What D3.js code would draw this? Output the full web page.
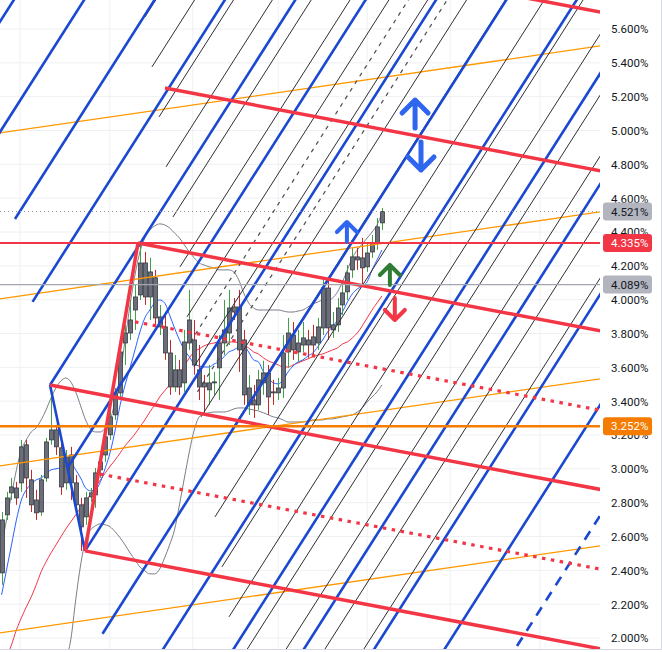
<!DOCTYPE html>
<html><head><meta charset="utf-8">
<script src="https://cdn.jsdelivr.net/npm/d3@7/dist/d3.min.js"></script>
<style>html,body{margin:0;padding:0;background:#fff;overflow:hidden}</style>
</head><body>
<script>
// ---------- candle data (percent yield) ----------
const open  = [2.385,2.728,2.858,2.887,2.917,3.142,2.935,2.816,2.745,2.946,3.171,3.230,3.124,2.917,3.082,2.917,2.787,2.716,2.834,2.846,2.994,3.082,3.201,3.319,3.449,3.744,3.803,3.939,4.028,4.217,4.016,4.129,3.839,3.839,3.685,3.484,3.585,3.508,3.744,3.762,3.585,3.508,3.467,3.508,3.597,3.744,3.803,3.957,3.957,3.762,3.378,3.407,3.378,3.508,3.567,3.455,3.449,3.478,3.691,3.791,3.691,3.732,3.762,3.780,3.744,3.833,4.069,3.821,3.851,3.969,4.046,4.176,4.253,4.247,4.194,4.282,4.335,4.454];
const high  = [2.745,2.864,2.946,2.923,3.171,3.171,2.994,2.876,2.964,3.183,3.496,3.260,3.171,3.112,3.130,2.964,2.828,2.864,2.887,3.005,3.082,3.218,3.348,3.478,3.762,3.851,3.998,4.087,4.335,4.282,4.247,4.176,3.969,3.910,3.762,3.673,3.644,3.821,4.058,3.880,3.732,3.555,3.614,3.573,3.791,3.998,4.058,4.010,4.058,3.821,3.555,3.496,3.585,3.639,3.614,3.526,3.537,3.791,3.892,3.868,3.821,3.868,3.821,3.851,3.892,4.117,4.117,3.927,4.010,4.099,4.205,4.306,4.306,4.365,4.335,4.383,4.483,4.542];
const low   = [2.314,2.698,2.816,2.787,2.864,2.828,2.745,2.698,2.722,2.923,3.142,3.082,2.846,2.876,2.816,2.745,2.515,2.669,2.805,2.769,2.946,3.041,3.171,3.289,3.407,3.614,3.762,3.821,3.998,3.969,3.880,3.851,3.791,3.644,3.437,3.455,3.437,3.455,3.703,3.556,3.407,3.319,3.378,3.437,3.407,3.673,3.732,3.880,3.573,3.378,3.319,3.301,3.348,3.437,3.319,3.378,3.407,3.419,3.597,3.644,3.632,3.691,3.656,3.673,3.703,3.791,3.762,3.774,3.809,3.910,3.998,4.129,4.176,4.087,4.164,4.247,4.294,4.412];
const close = [2.698,2.828,2.893,2.828,3.130,2.946,2.787,2.740,2.935,3.159,3.230,3.130,2.893,3.071,2.917,2.787,2.657,2.828,2.858,2.976,3.041,3.189,3.307,3.449,3.691,3.803,3.880,4.016,4.217,4.016,4.164,3.892,3.898,3.685,3.484,3.585,3.484,3.750,3.880,3.614,3.484,3.484,3.508,3.514,3.744,3.821,3.951,3.927,3.703,3.437,3.478,3.378,3.526,3.567,3.425,3.449,3.478,3.685,3.803,3.703,3.744,3.774,3.732,3.732,3.839,4.069,3.833,3.851,3.951,4.040,4.158,4.253,4.235,4.188,4.276,4.335,4.430,4.521];

// ---------- indicators ----------
const maFast = [2.255,2.403,2.550,2.698,2.816,2.876,2.911,2.935,2.946,2.970,2.994,3.000,3.006,3.017,3.035,2.994,2.946,2.887,2.870,2.876,2.923,3.006,3.100,3.230,3.378,3.496,3.597,3.703,3.809,3.892,3.939,3.981,3.998,3.981,3.910,3.833,3.762,3.703,3.662,3.620,3.608,3.602,3.602,3.620,3.632,3.662,3.691,3.703,3.721,3.727,3.691,3.644,3.632,3.573,3.537,3.508,3.502,3.526,3.573,3.608,3.632,3.644,3.667,3.685,3.721,3.762,3.809,3.839,3.880,3.927,3.986,4.034,4.063,4.081,4.105,4.176,4.235,4.294];
const maSlow = [1.812,1.883,1.959,2.048,2.119,2.184,2.243,2.314,2.391,2.450,2.503,2.550,2.598,2.645,2.686,2.728,2.769,2.805,2.852,2.893,2.935,2.976,3.017,3.053,3.094,3.136,3.171,3.206,3.248,3.289,3.336,3.378,3.425,3.461,3.496,3.531,3.567,3.608,3.656,3.691,3.709,3.727,3.738,3.744,3.750,3.750,3.750,3.750,3.744,3.732,3.715,3.691,3.679,3.656,3.638,3.626,3.614,3.602,3.602,3.614,3.626,3.638,3.650,3.662,3.673,3.679,3.691,3.703,3.715,3.738,3.750,3.774,3.803,3.845,3.892,3.939,3.981,4.022];
const bandUpper = [2.550,2.698,2.846,2.994,3.112,3.171,3.218,3.242,3.289,3.348,3.419,3.478,3.520,3.537,3.514,3.455,3.372,3.289,3.236,3.218,3.218,3.242,3.289,3.407,3.555,3.762,3.969,4.146,4.282,4.365,4.412,4.436,4.448,4.442,4.424,4.394,4.365,4.323,4.282,4.247,4.217,4.205,4.194,4.188,4.176,4.176,4.176,4.164,4.117,4.040,3.981,3.951,3.939,3.939,3.939,3.939,3.939,3.933,3.927,3.927,3.933,3.939,3.957,3.975,3.986,3.998,3.998,4.010,4.046,4.105,4.176,4.247,4.294,4.329,4.365,4.400,4.442,4.513];
const bandLower = [null,null,null,null,null,null,null,null,null,null,null,null,null,1.871,1.989,2.225,2.432,2.580,2.639,2.663,2.675,2.669,2.657,2.627,2.592,2.550,2.503,2.462,2.420,2.397,2.379,2.379,2.408,2.474,2.550,2.639,2.787,2.946,3.100,3.230,3.307,3.325,3.331,3.336,3.336,3.336,3.342,3.354,3.360,3.360,3.354,3.348,3.342,3.331,3.319,3.307,3.301,3.289,3.277,3.277,3.277,3.277,3.283,3.289,3.289,3.289,3.295,3.295,3.301,3.307,3.313,3.319,3.336,3.360,3.396,3.425,3.455,3.496];

// ---------- axis ----------
const yTicks = [2.0,2.2,2.4,2.6,2.8,3.0,3.2,3.4,3.6,3.8,4.0,4.2,4.4,4.6,4.8,5.0,5.2,5.4,5.6];
const gridBars = [3.7,21.9,38.7,56.0,74.0,90.8,109.0];

// ---------- horizontal price lines ----------
const priceLines = [4.521,4.335,4.089,3.252];
const priceLineKind = ["last","resist","prev","support"];

// ---------- drawings: diagonal channel (blue) ----------
const diagSlope = 0.04584;            // % per bar
const blueStartBar = [-4.37,-0.83,2.71,6.26,9.80,13.34,16.89,20.43,23.97,27.52,31.06,34.60,38.14,41.69];
const blueStartVal = [5.458,4.968,4.477,3.987,3.496,3.006,2.515,2.025,1.534,1.044,0.553,0.063,-0.428,-0.919];
const blueDashed   = [0,0,0,0,0,0,0,0,0,0,0,0,0,1];
// ---------- drawings: diagonal channel (black) ----------
const blackStartBar = [29.02,30.44,31.86,33.28,34.69,36.11,37.53,38.94,40.36,41.78,43.19,44.61,46.03,47.45,48.86,50.28,51.70];
const blackStartVal = [5.671,5.376,5.080,4.785,4.489,4.194,3.898,3.603,3.307,3.012,2.716,2.421,2.125,1.830,1.534,1.239,0.943];
const dashStartBar = [38.23,39.65];
const dashStartVal = [3.750,3.455];

// ---------- drawings: pitchfork (red) ----------
const forkSlope = -0.005547;
const forkStartBar = [16.88,9.80,27.61,33.08,38.5];
const forkStartVal = [2.515,3.496,4.335,5.251,6.159];
const forkMidBar = [27.0,19.9];
const forkMidVal = [3.869,2.969];
const pivotBar = [9.80,16.88,27.61];   // A, C, B
const pivotVal = [3.496,2.515,4.335];

// ---------- drawings: orange channel ----------
const orangeSlope = 0.004233;
const orangeVal0 = [4.987,4.006,3.019,2.032];

// ---------- arrows ----------
const arrowBar  = [83.7,84.9,69.9,78.6,79.6];
const arrowFrom = [5.015,4.932,4.341,4.087,4.010];
const arrowTo   = [5.180,4.767,4.459,4.205,3.880];
const arrowKind = ["blueBig","blueBig","blue","green","red"];

// =====================================================
const PW=600, PH=649, ENDBAR=126;
const svg = d3.select("body").append("svg").attr("width",662).attr("height",652)
  .style("font-family","Roboto, 'Noto Sans', sans-serif").style("display","block");
const x = d3.scaleLinear().domain([0,121]).range([1.6,1.6+121*4.94]);
const y = d3.scaleLinear().domain([2.0,5.6]).range([638,29]);

svg.append("defs").append("clipPath").attr("id","clip")
  .append("rect").attr("x",0).attr("y",0).attr("width",PW).attr("height",PH);

// grid
const grid = svg.append("g");
grid.selectAll("line.h").data(yTicks).join("line")
  .attr("x1",0).attr("x2",PW).attr("y1",d=>y(d)).attr("y2",d=>y(d))
  .attr("stroke","#eef0f4").attr("stroke-width",1);
grid.selectAll("line.v").data(gridBars).join("line")
  .attr("x1",d=>x(d)).attr("x2",d=>x(d)).attr("y1",0).attr("y2",PH)
  .attr("stroke","#eef0f4").attr("stroke-width",1);

const plot = svg.append("g").attr("clip-path","url(#clip)");
const idx = d3.range(close.length);

// indicators
const lineGen = arr => d3.line().defined(i=>arr[i]!=null).x(i=>x(i)).y(i=>y(arr[i])).curve(d3.curveMonotoneX)(idx);
plot.append("path").attr("d",lineGen(bandUpper)).attr("fill","none").attr("stroke","#7b7e87").attr("stroke-width",1);
plot.append("path").attr("d",lineGen(bandLower)).attr("fill","none").attr("stroke","#7b7e87").attr("stroke-width",1);
plot.append("path").attr("d",lineGen(maSlow)).attr("fill","none").attr("stroke","#f23645").attr("stroke-width",1);
plot.append("path").attr("d",lineGen(maFast)).attr("fill","none").attr("stroke","#2962ff").attr("stroke-width",1);

// candles
const cg = plot.append("g");
cg.selectAll("line").data(idx).join("line")
  .attr("x1",i=>Math.round(x(i))+0.5).attr("x2",i=>Math.round(x(i))+0.5)
  .attr("y1",i=>y(high[i])).attr("y2",i=>y(low[i]))
  .attr("stroke",i=>close[i]>=open[i]?"#43a047":"#c62828").attr("stroke-width",1);
cg.selectAll("rect").data(idx).join("rect")
  .attr("x",i=>Math.round(x(i))-1.5).attr("width",4)
  .attr("y",i=>y(Math.max(open[i],close[i])))
  .attr("height",i=>Math.max(1,Math.abs(y(open[i])-y(close[i]))))
  .attr("fill","#6b6e76").attr("stroke","#363a45").attr("stroke-width",0.8);

// drawing helpers
const dg = plot.append("g").attr("fill","none");
function seg(b1,v1,b2,v2,color,w,dash){
  const l = dg.append("line").attr("x1",x(b1)).attr("y1",y(v1)).attr("x2",x(b2)).attr("y2",y(v2))
    .attr("stroke",color).attr("stroke-width",w);
  if(dash) l.attr("stroke-dasharray",dash);
  return l;
}
// orange channel
orangeVal0.forEach(v=>seg(-1,v-orangeSlope,ENDBAR,v+orangeSlope*ENDBAR,"#ff9800",1.3));
// black channel
blackStartBar.forEach((b,i)=>seg(b,blackStartVal[i],ENDBAR,blackStartVal[i]+diagSlope*(ENDBAR-b),"#2f2f33",1));
dashStartBar.forEach((b,i)=>seg(b,dashStartVal[i],ENDBAR,dashStartVal[i]+diagSlope*(ENDBAR-b),"#4a4a50",1.2,"4,5"));
// blue channel
blueStartBar.forEach((b,i)=>seg(b,blueStartVal[i],ENDBAR,blueStartVal[i]+diagSlope*(ENDBAR-b),"#1b48d0",2.6,blueDashed[i]?"10,8":null));
// pitchfork connectors
seg(pivotBar[0],pivotVal[0],pivotBar[1],pivotVal[1],"#1b48d0",2.6);
seg(pivotBar[1],pivotVal[1],pivotBar[2],pivotVal[2],"#f23645",3.5);
// pitchfork tines
forkStartBar.forEach((b,i)=>seg(b,forkStartVal[i],ENDBAR,forkStartVal[i]+forkSlope*(ENDBAR-b),"#f23645",3.5));
forkMidBar.forEach((b,i)=>seg(b,forkMidVal[i],ENDBAR,forkMidVal[i]+forkSlope*(ENDBAR-b),"#f23645",3.2,"3.5,5.5"));

// horizontal price lines
const plStyle = {last:["#9598a1",1,"1,3"],resist:["#f23645",2,null],prev:["#a3a6af",1.3,null],support:["#f57c00",2.6,null]};
priceLines.forEach((v,i)=>{
  const s=plStyle[priceLineKind[i]];
  const l=plot.append("line").attr("x1",0).attr("x2",PW).attr("y1",y(v)).attr("y2",y(v))
    .attr("stroke",s[0]).attr("stroke-width",s[1]);
  if(s[2]) l.attr("stroke-dasharray",s[2]);
});

// arrows
const arrowStyle = {blueBig:["#2f66f0",5,13],blue:["#2f66f0",4,10],green:["#2e7d32",4,10],red:["#f23645",4,10]};
arrowBar.forEach((b,i)=>{
  const s=arrowStyle[arrowKind[i]];
  const ax=x(b), y0=y(arrowFrom[i]), y1=y(arrowTo[i]);
  const dir = y1<y0 ? 1 : -1;
  const hw=s[2];
  const p = `M${ax},${y0}L${ax},${y1}M${ax-hw},${y1+dir*hw}L${ax},${y1}L${ax+hw},${y1+dir*hw}`;
  plot.append("path").attr("d",p).attr("fill","none").attr("stroke",s[0]).attr("stroke-width",s[1])
    .attr("stroke-linecap","round").attr("stroke-linejoin","round");
});

// right axis
const axis = d3.axisRight(y).tickValues(yTicks).tickSize(0).tickPadding(0)
  .tickFormat(d=>d.toFixed(3)+"%");
const ag = svg.append("g").attr("transform","translate(611,0)").call(axis);
ag.select(".domain").remove();
ag.selectAll("text").attr("fill","#131722").attr("font-size","11.5px").attr("dy","0.34em")
  .style("font-family","Roboto, 'Noto Sans', sans-serif");

// badges
const badgeStyle = {last:["#b2b5be","#131722"],resist:["#f23645","#ffffff"],prev:["#b2b5be","#131722"],support:["#f57c00","#ffffff"]};
priceLines.forEach((v,i)=>{
  const s=badgeStyle[priceLineKind[i]];
  svg.append("rect").attr("x",603).attr("y",y(v)-9).attr("width",49).attr("height",18).attr("rx",3).attr("fill",s[0]);
  svg.append("text").attr("x",611).attr("y",y(v)).attr("dy","0.35em").attr("font-size","11.5px")
    .attr("fill",s[1]).text(v.toFixed(3)+"%");
});

// borders
svg.append("line").attr("x1",0).attr("x2",662).attr("y1",649.5).attr("y2",649.5).attr("stroke","#d6d8e6");
svg.append("line").attr("x1",661.5).attr("x2",661.5).attr("y1",0).attr("y2",650).attr("stroke","#d6d8e6");
</script>
</body></html>
